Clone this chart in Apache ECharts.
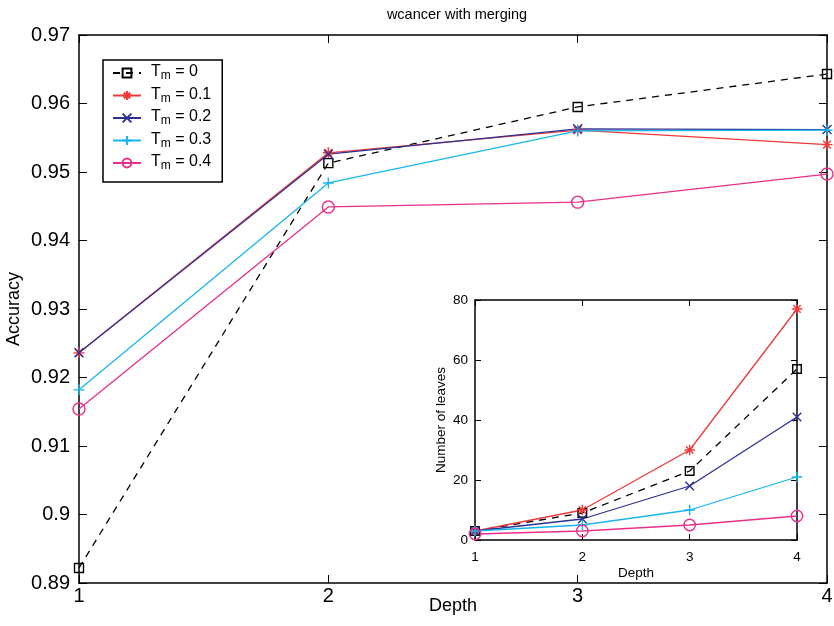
<!DOCTYPE html>
<html><head><meta charset="utf-8">
<script src="https://cdn.jsdelivr.net/npm/echarts@6/dist/echarts.min.js"></script>
<style>html,body{margin:0;padding:0;background:#fff}#c{width:834px;height:626px}</style>
</head><body><div id="c"></div>
<script>
const depths = [1, 2, 3, 4];
const seriesNames = ['T0', 'T0.1', 'T0.2', 'T0.3', 'T0.4'];
const legendLabels = ['0', '0.1', '0.2', '0.3', '0.4'];
const acc_T0  = [0.8922, 0.9513, 0.9595, 0.9643];
const acc_T01 = [0.9236, 0.9528, 0.9561, 0.9540];
const acc_T02 = [0.9236, 0.9526, 0.9563, 0.9562];
const acc_T03 = [0.9182, 0.9484, 0.9560, 0.9561];
const acc_T04 = [0.9154, 0.9449, 0.9456, 0.9497];
const leaves_T0  = [3, 9, 23, 57];
const leaves_T01 = [3, 10, 30, 77];
const leaves_T02 = [3, 7, 18, 41];
const leaves_T03 = [3, 5, 10, 21];
const leaves_T04 = [2, 3, 5, 8];

const accData = [acc_T0, acc_T01, acc_T02, acc_T03, acc_T04];
const leafData = [leaves_T0, leaves_T01, leaves_T02, leaves_T03, leaves_T04];
const colors = ['#000000', '#ee3a3a', '#2e3192', '#19b5ec', '#e8308a'];
const symbols = [
  'rect',
  'path://M0,5 L10,5 M5,0 L5,10 M1.5,1.5 L8.5,8.5 M1.5,8.5 L8.5,1.5',
  'path://M0,0 L10,10 M0,10 L10,0',
  'path://M0,5 L10,5 M5,0 L5,10',
  'circle'
];
const symSizes = [9, 11, 9, 11, 12];
const FONT = 'Liberation Sans, Arial, Helvetica, sans-serif';

function pairs(arr) { return depths.map((d, i) => [d, arr[i]]); }

const series = [];
seriesNames.forEach((n, i) => {
  const base = {
    name: n, type: 'line', symbol: symbols[i], symbolSize: symSizes[i],
    lineStyle: { color: colors[i], width: 1.3, type: i === 0 ? [7, 6] : 'solid' },
    itemStyle: { color: (i === 0 || i === 4) ? 'rgba(255,255,255,0)' : colors[i], borderColor: colors[i], borderWidth: 1.4 },
    emphasis: { disabled: true }, animation: false, z: 3
  };
  series.push(Object.assign({}, base, { xAxisIndex: 0, yAxisIndex: 0, data: pairs(accData[i]) }));
  series.push(Object.assign({}, base, { xAxisIndex: 2, yAxisIndex: 2, data: pairs(leafData[i]), z: 12, symbolSize: symSizes[i] * 0.95 }));
});

function frameAxis(pos, grid, min, max, interval, showLabel, fontSize, margin, name, nameGap) {
  const a = {
    type: 'value', gridIndex: grid, position: pos, min: min, max: max, interval: interval,
    axisLine: { show: true, onZero: false, lineStyle: { color: '#000', width: 1.5 } },
    axisTick: { show: true, inside: true, length: grid === 0 ? 8 : 6, lineStyle: { color: '#000', width: 1 } },
    axisLabel: { show: showLabel, color: '#000', fontSize: fontSize, fontFamily: FONT, margin: margin,
      formatter: v => String(parseFloat(v.toFixed(2))) },
    splitLine: { show: false }
  };
  if (name) {
    a.name = name; a.nameLocation = 'middle'; a.nameGap = nameGap; a.nameMoveOverlap = false;
    a.nameTextStyle = { color: '#000', fontSize: grid === 0 ? 18 : 13.5, fontFamily: FONT };
  }
  return a;
}

const option = {
  backgroundColor: '#fff',
  animation: false,
  title: { text: 'wcancer with merging', left: 452, top: 2, textAlign: 'center',
    textStyle: { fontSize: 14.5, fontWeight: 'normal', color: '#000', fontFamily: FONT } },
  grid: [
    { left: 79, right: 7, top: 35, bottom: 43, outerBoundsMode: 'none', containLabel: false },
    { left: 475, width: 322, top: 300, height: 240, show: true, backgroundColor: '#fff', borderWidth: 0, z: 10, outerBoundsMode: 'none', containLabel: false }
  ],
  xAxis: [
    frameAxis('bottom', 0, 1, 4, 1, true, 20, 3, 'Depth', 14),
    frameAxis('top', 0, 1, 4, 1, false, 20, 8),
    Object.assign(frameAxis('bottom', 1, 1, 4, 1, true, 13.5, 10, 'Depth', 26), { z: 11 }),
    Object.assign(frameAxis('top', 1, 1, 4, 1, false, 13.5, 8), { z: 11 })
  ],
  yAxis: [
    frameAxis('left', 0, 0.89, 0.97, 0.01, true, 20, 9, 'Accuracy', 56),
    frameAxis('right', 0, 0.89, 0.97, 0.01, false, 20, 9),
    Object.assign(frameAxis('left', 1, 0, 80, 20, true, 13.5, 7, 'Number of leaves', 27), { z: 11 }),
    Object.assign(frameAxis('right', 1, 0, 80, 20, false, 13.5, 7), { z: 11 })
  ],
  legend: {
    left: 103, top: 60, orient: 'vertical', itemGap: 0.5, itemWidth: 28, itemHeight: 11,
    padding: [0, 11, 10, 9],
    backgroundColor: '#fff', borderColor: '#000', borderWidth: 1.5,
    data: seriesNames,
    selectedMode: false,
    formatter: n => '{f|T}{s|m}{t| = ' + legendLabels[seriesNames.indexOf(n)] + '}',
    textStyle: {
      color: '#000', fontFamily: FONT, fontSize: 16, lineHeight: 18,
      rich: {
        f: { fontSize: 16, fontFamily: FONT, color: '#000', lineHeight: 18, verticalAlign: 'top', padding: [0, 0, 0, 5] },
        t: { fontSize: 16, fontFamily: FONT, color: '#000', lineHeight: 18, verticalAlign: 'top' },
        s: { fontSize: 12, fontFamily: FONT, color: '#000', lineHeight: 8, verticalAlign: 'bottom', padding: [10, 0, 0, 0] }
      }
    }
  },
  series: series
};

const chart = echarts.init(document.getElementById('c'), null, { renderer: 'canvas' });
chart.setOption(option);
</script></body></html>
